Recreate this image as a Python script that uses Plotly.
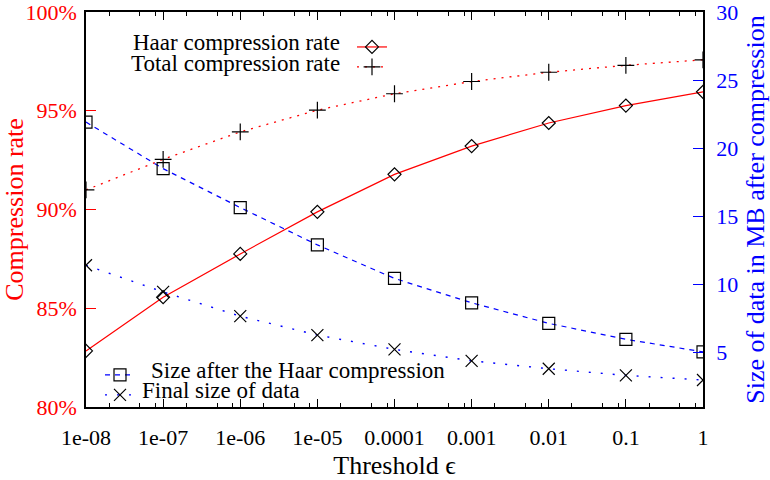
import plotly.graph_objects as go

# ---- data ----
thresholds = [1e-8, 1e-7, 1e-6, 1e-5, 1e-4, 1e-3, 1e-2, 1e-1, 1]
x_tick_labels = ["1e-08", "1e-07", "1e-06", "1e-05", "0.0001", "0.001", "0.01", "0.1", "1"]
haar_rate = [82.84, 85.56, 87.75, 89.88, 91.78, 93.21, 94.38, 95.26, 95.96]
total_rate = [90.99, 92.54, 93.93, 95.03, 95.86, 96.48, 96.95, 97.30, 97.58]
haar_size = [21.92, 18.50, 15.64, 12.90, 10.44, 8.65, 7.14, 5.97, 5.05]
final_size = [11.41, 9.45, 7.67, 6.28, 5.23, 4.39, 3.81, 3.32, 2.98]
y_tick_vals = [80, 85, 90, 95, 100]
y2_tick_vals = [5, 10, 15, 20, 25, 30]
series_names = ["Haar compression rate", "Total compression rate",
                "Size after the Haar compression", "Final size of data"]

FONT = "Liberation Serif"
L, R, T, B = 86, 67, 12, 73
W, H = 770, 480
PW, PH = W - L - R, H - T - B


def px(xp):
    return (xp - L) / PW


def py(yp):
    return (H - B - yp) / PH


minor_vals = [m * 10.0 ** e for e in range(-8, 0) for m in (2, 5, 8)]

fig = go.Figure()
fig.add_trace(go.Scatter(
    x=thresholds, y=haar_rate, mode="lines+markers", name="",
    line=dict(color="#ff0000", width=1.2),
    marker=dict(symbol="diamond-open", size=10, color="black", line=dict(color="black", width=1.2)),
    legend="legend", showlegend=True))
fig.add_trace(go.Scatter(
    x=thresholds, y=total_rate, mode="lines+markers", name="",
    line=dict(color="#ff0000", width=1.3, dash="2px,6px"),
    marker=dict(symbol="cross-thin-open", size=12, color="black", line=dict(color="black", width=1.2)),
    legend="legend", showlegend=True))
fig.add_trace(go.Scatter(
    x=thresholds, y=haar_size, mode="lines+markers", name="", yaxis="y2",
    line=dict(color="#0000ff", width=1.2, dash="5px,5px"),
    marker=dict(symbol="square-open", size=12, color="black", line=dict(color="black", width=1.2)),
    legend="legend2", showlegend=True))
fig.add_trace(go.Scatter(
    x=thresholds, y=final_size, mode="lines+markers", name="", yaxis="y2",
    line=dict(color="#0000ff", width=1.4, dash="2px,10px"),
    marker=dict(symbol="x-thin-open", size=12, color="black", line=dict(color="black", width=1.2)),
    legend="legend2", showlegend=True))

annotations = [
    dict(text=series_names[0], x=px(342), y=py(43), xanchor="right", yanchor="middle"),
    dict(text=series_names[1], x=px(342), y=py(63), xanchor="right", yanchor="middle"),
    dict(text=series_names[2], x=px(149), y=py(370), xanchor="left", yanchor="middle"),
    dict(text=series_names[3], x=px(140), y=py(390), xanchor="left", yanchor="middle"),
]
for a in annotations:
    a.update(xref="paper", yref="paper", showarrow=False,
             font=dict(family=FONT, size=23, color="black"))

fig.update_layout(
    width=W, height=H,
    margin=dict(l=L, r=R, t=T, b=B, autoexpand=False),
    paper_bgcolor="white", plot_bgcolor="white",
    font=dict(family=FONT, size=22, color="black"),
    annotations=annotations,
    legend=dict(x=px(352), y=py(32), xanchor="left", yanchor="top",
                font=dict(size=13), bgcolor="rgba(0,0,0,0)", itemwidth=30,
                tracegroupgap=0),
    legend2=dict(x=px(100), y=py(360), xanchor="left", yanchor="top",
                 font=dict(size=13), bgcolor="rgba(0,0,0,0)", itemwidth=30,
                 tracegroupgap=0),
    xaxis=dict(
        type="log", range=[-8, 0], automargin=False, ticklabeloverflow="allow",
        tickmode="array", tickvals=thresholds, ticktext=x_tick_labels,
        ticks="inside", ticklen=8, tickwidth=1, tickcolor="black",
        minor=dict(tickmode="array", tickvals=minor_vals, ticks="inside",
                   ticklen=4, tickwidth=1, tickcolor="black"),
        showline=True, linecolor="black", linewidth=1.5, mirror="ticks",
        showgrid=False, zeroline=False,
        tickfont=dict(family=FONT, size=22, color="black"),
        ticklabelstandoff=10,
        title=dict(text="Threshold ϵ", font=dict(family=FONT, size=26, color="black"), standoff=8),
    ),
    yaxis=dict(
        range=[80, 100], automargin=False, ticklabeloverflow="allow",
        tickmode="array", tickvals=y_tick_vals,
        ticktext=[f"{v}%" for v in y_tick_vals],
        ticks="inside", ticklen=10, tickwidth=1, tickcolor="#ff0000",
        showline=True, linecolor="black", linewidth=1.5,
        showgrid=False, zeroline=False,
        tickfont=dict(family=FONT, size=22, color="#ff0000"),
        ticklabelstandoff=3,
        title=dict(text="Compression rate", font=dict(family=FONT, size=26, color="#ff0000"), standoff=4),
    ),
    yaxis2=dict(
        range=[1, 30], automargin=False, ticklabeloverflow="allow",
        overlaying="y", side="right",
        tickmode="array", tickvals=y2_tick_vals,
        ticks="inside", ticklen=10, tickwidth=1, tickcolor="#0000ff",
        showline=True, linecolor="black", linewidth=1.5,
        showgrid=False, zeroline=False,
        tickfont=dict(family=FONT, size=22, color="#0000ff"),
        ticklabelstandoff=7,
        title=dict(text="Size of data in MB after compression",
                   font=dict(family=FONT, size=26, color="#0000ff"), standoff=12),
    ),
)

fig.write_html("out.html", config={"displayModeBar": False},
               post_script="document.body.style.margin='0';")
